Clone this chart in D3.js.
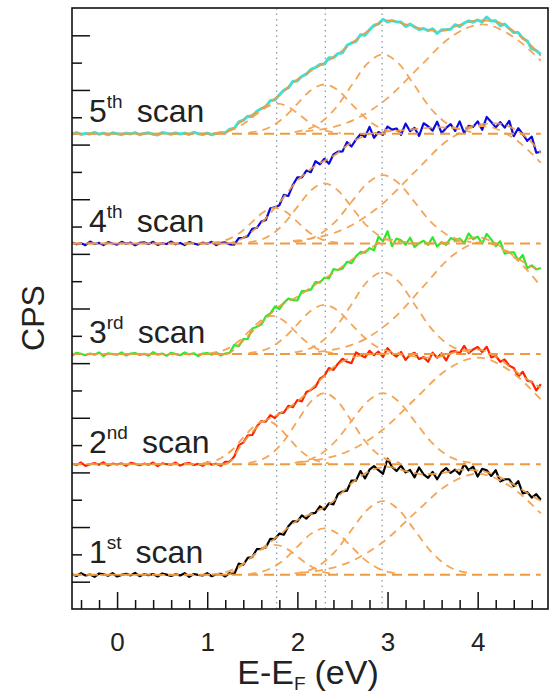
<!DOCTYPE html>
<html><head><meta charset="utf-8">
<script src="https://cdn.jsdelivr.net/npm/d3@7"></script>
<style>body{margin:0;background:#fff;} text{font-family:"Liberation Sans",Arial,sans-serif;}</style>
</head><body><svg id="chart" width="550" height="700"></svg>
<script>
// ---------- data ----------
const energyStart = -0.5, energyStep = 0.05;   // measured grid of the spectra (eV)
const scanNumbers = ["1", "2", "3", "4", "5"];
const scanSuffixes = ["st", "nd", "rd", "th", "th"];
const scanOffsets = [1.25, 5.3, 9.33, 13.38, 17.4];
const xMajorTicks = [0, 1, 2, 3, 4];
const yMajorTicks = [1, 3, 5, 7, 9, 11, 13, 15, 17, 19, 21];
const yMinorTicks = [2, 4, 6, 8, 10, 12, 14, 16, 18, 20];
const markerEnergies = [1.77, 2.31, 2.94];

const scan1Counts = [.02,-.04,.06,-.02,.01,-.07,.05,.02,-.03,.06,-.06,0,.04,-.02,.07,-.05,.02,-.01,.03,-.06,.05,.01,-.04,.02,-.02,.06,-.07,.03,0,-.02,.06,-.05,.02,.04,
 -.06,.07,.03,.41,.37,.62,.65,.94,.95,1.0,1.32,1.31,1.51,1.47,1.78,1.96,1.96,2.18,2.06,2.24,2.27,2.51,2.39,2.62,2.58,2.96,3.05,
 3.08,3.45,3.45,3.8,3.53,3.85,3.98,3.83,3.7,4.25,3.95,3.8,4.0,3.75,3.84,3.57,3.93,3.68,3.55,3.77,3.5,3.77,3.91,3.73,3.85,3.68,4.05,3.83,3.96,3.6,3.88,3.83,3.62,3.83,3.42,3.5,3.5,3.25,3.43,2.98,3.03,2.83,2.95,2.75];
const scan2Counts = [.02,-.03,.06,-.06,0,.04,-.02,.07,-.05,.02,-.01,.03,-.06,.05,.01,-.04,.02,-.02,.06,-.07,.03,0,-.02,.06,-.05,.02,.04,-.03,.01,-.06,.07,-.02,.02,-.06,
 .09,.1,.28,.7,.79,1.06,1.07,1.38,1.58,1.56,1.8,1.69,1.87,1.89,2.14,2.09,2.35,2.3,2.64,2.72,2.83,3.13,3.24,3.52,3.45,3.68,3.86,
 3.75,3.7,4.09,4.0,3.91,4.15,3.99,4.12,3.92,4.25,4.05,3.94,4.11,3.82,4.01,4.08,3.85,3.92,3.75,4.08,3.9,4.06,3.8,4.12,4.14,4.06,4.33,4.07,4.2,4.29,4.11,4.3,3.91,3.97,3.75,3.83,3.61,3.52,3.21,3.38,3.06,3.02,2.7,2.93];
const scan3Counts = [-.06,.05,.01,-.04,.02,-.02,.06,-.07,.03,0,-.02,.06,-.05,.02,.04,-.03,.01,-.06,.07,-.02,.02,-.06,.05,0,-.04,.06,-.01,.03,-.07,.02,.04,-.02,.06,-.05,
 .02,.05,.34,.29,.55,.56,.94,1.0,1.08,1.38,1.49,1.74,1.65,1.88,2.03,1.98,1.97,2.31,2.32,2.36,2.64,2.62,2.8,2.77,3.11,3.08,3.13,
 3.38,3.33,3.58,3.74,3.71,3.88,3.8,4.3,4.13,4.5,3.95,4.23,4.17,4.0,4.26,3.92,4.06,4.15,4.0,4.28,3.94,4.1,4.0,4.25,4.17,4.23,4.06,4.42,4.2,4.3,4.05,4.4,4.2,3.95,4.13,3.68,3.72,3.73,3.43,3.63,3.15,3.25,3.1,3.15];
const scan4Counts = [.04,-.03,.01,-.06,.07,-.02,.02,-.06,.05,0,-.04,.06,-.01,.03,-.07,.02,.04,-.02,.06,-.05,.01,-.02,.07,-.03,.02,-.06,.05,0,-.04,.03,-.01,.06,-.06,.02,.04,
 -.03,-.04,.2,.21,.27,.54,.57,.8,.86,1.29,1.32,1.4,1.78,1.74,2.14,2.42,2.42,2.67,2.61,3.01,2.9,3.1,2.92,3.26,3.36,3.37,
 3.71,3.55,3.8,4.0,3.9,4.27,3.87,4.08,3.98,4.28,4.17,4.21,3.98,4.39,4.11,4.23,3.94,4.4,4.29,4.13,4.46,4.04,4.23,4.37,4.12,4.47,4.04,4.31,4.27,4.47,4.16,4.63,4.45,4.25,4.44,4.24,4.49,3.93,4.22,4.0,3.76,3.91,3.32,3.36];
const scan5Counts = [-.02,.04,-.03,.01,-.01,.05,-.02,.02,-.04,.03,0,-.03,.02,-.01,.04,-.04,.01,.03,-.02,-.05,.04,.01,-.02,.03,-.01,.02,-.03,.05,0,-.03,.02,-.04,.01,.03,
 .03,.16,.19,.43,.49,.64,.63,.82,.92,.99,1.21,1.23,1.42,1.59,1.68,1.91,1.94,2.1,2.18,2.35,2.42,2.53,2.55,2.78,2.78,2.93,2.96,
 3.23,3.32,3.38,3.62,3.6,3.8,3.97,4.02,4.19,4.09,4.14,4.09,4.09,3.92,4.01,3.91,3.81,3.85,3.77,3.84,3.67,3.8,3.8,3.82,3.99,3.92,4.05,4.13,4.08,4.16,4.09,4.27,4.12,4.13,3.95,4.01,3.85,3.7,3.7,3.49,3.39,3.11,3.04,2.9];

// total fit envelopes
const fitEnergies = [-0.5,1.0,1.2,1.4,1.6,1.8,2.0,2.2,2.4,2.6,2.8,3.0,3.2,3.4,3.6,3.8,4.0,4.2,4.4,4.6,4.7];
const scan1Fit = [0,0,0,.4,.95,1.45,2.0,2.3,2.7,3.35,3.8,3.95,3.8,3.68,3.72,3.85,3.82,3.65,3.3,2.9,2.7];
const scan2Fit = [0,0,0,.8,1.5,1.85,2.3,2.9,3.55,3.9,4.02,4.05,4.0,3.9,3.95,4.15,4.2,3.95,3.45,3.0,2.8];
const scan3Fit = [0,0,0,.5,1.15,1.75,2.1,2.55,2.97,3.45,3.85,4.2,4.1,4.05,4.07,4.15,4.28,4.05,3.6,3.2,3.05];
const scan4Fit = [0,0,0,.2,.75,1.5,2.3,2.85,3.2,3.7,4.0,4.1,4.15,4.22,4.25,4.2,4.35,4.4,4.2,3.7,3.3];
const scan5Fit = [0,0,.05,.5,.9,1.42,1.98,2.4,2.8,3.3,3.8,4.15,4.0,3.82,3.76,3.98,4.15,4.1,3.75,3.2,2.85];

// fitted peak components [energy, height]
const scan1Peaks = [
 [[1.05,.02],[1.25,.15],[1.375,.36],[1.5,.67],[1.625,.97],[1.75,1.1],[1.875,.97],[2.0,.67],[2.125,.36],[2.25,.15],[2.45,.02]],
 [[1.46,.03],[1.7,.23],[1.85,.55],[2.0,1.03],[2.15,1.5],[2.3,1.7],[2.45,1.5],[2.6,1.03],[2.75,.55],[2.9,.23],[3.14,.03]],
 [[1.97,.05],[2.25,.36],[2.425,.88],[2.6,1.64],[2.775,2.38],[2.95,2.7],[3.125,2.38],[3.3,1.64],[3.475,.88],[3.65,.36],[3.93,.05]],
 [[2.04,.07],[2.6,.5],[2.95,1.2],[3.3,2.25],[3.65,3.26],[4.0,3.7],[4.35,3.26],[4.7,2.25]]];
const scan2Peaks = [
 [[.95,.03],[1.15,.22],[1.275,.52],[1.4,.97],[1.525,1.41],[1.65,1.6],[1.775,1.41],[1.9,.97],[2.025,.52],[2.15,.22],[2.35,.03]],
 [[1.46,.05],[1.7,.35],[1.85,.85],[2.0,1.58],[2.15,2.29],[2.3,2.6],[2.45,2.29],[2.6,1.58],[2.75,.85],[2.9,.35],[3.14,.05]],
 [[1.97,.05],[2.25,.35],[2.425,.85],[2.6,1.58],[2.775,2.29],[2.95,2.6],[3.125,2.29],[3.3,1.58],[3.475,.85],[3.65,.35],[3.93,.05]],
 [[2.04,.08],[2.6,.53],[2.95,1.27],[3.3,2.37],[3.65,3.44],[4.0,3.9],[4.35,3.44],[4.7,2.37]]];
const scan3Peaks = [
 [[1.02,.03],[1.22,.19],[1.345,.46],[1.47,.85],[1.595,1.23],[1.72,1.4],[1.845,1.23],[1.97,.85],[2.095,.46],[2.22,.19],[2.42,.03]],
 [[1.46,.04],[1.7,.24],[1.85,.59],[2.0,1.09],[2.15,1.59],[2.3,1.8],[2.45,1.59],[2.6,1.09],[2.75,.59],[2.9,.24],[3.14,.04]],
 [[1.97,.06],[2.25,.41],[2.425,.98],[2.6,1.82],[2.775,2.65],[2.95,3.0],[3.125,2.65],[3.3,1.82],[3.475,.98],[3.65,.41],[3.93,.06]],
 [[2.23,.08],[2.75,.55],[3.075,1.33],[3.4,2.49],[3.725,3.62],[4.05,4.1],[4.375,3.62],[4.7,2.49]]];
const scan4Peaks = [
 [[1.05,.03],[1.25,.18],[1.375,.42],[1.5,.79],[1.625,1.15],[1.75,1.3],[1.875,1.15],[2.0,.79],[2.125,.42],[2.25,.18],[2.45,.03]],
 [[1.46,.04],[1.7,.3],[1.85,.72],[2.0,1.34],[2.15,1.94],[2.3,2.2],[2.45,1.94],[2.6,1.34],[2.75,.72],[2.9,.3],[3.14,.04]],
 [[1.97,.05],[2.25,.34],[2.425,.81],[2.6,1.52],[2.775,2.2],[2.95,2.5],[3.125,2.2],[3.3,1.52],[3.475,.81],[3.65,.34],[3.93,.05]],
 [[1.95,.09],[2.55,.58],[2.925,1.4],[3.3,2.61],[3.675,3.79],[4.05,4.3],[4.425,3.79],[4.7,2.95]]];
const scan5Peaks = [
 [[1.08,.02],[1.28,.15],[1.405,.36],[1.53,.67],[1.655,.97],[1.78,1.1],[1.905,.97],[2.03,.67],[2.155,.36],[2.28,.15],[2.48,.02]],
 [[1.46,.04],[1.7,.24],[1.85,.59],[2.0,1.09],[2.15,1.59],[2.3,1.8],[2.45,1.59],[2.6,1.09],[2.75,.59],[2.9,.24],[3.14,.04]],
 [[1.97,.06],[2.25,.39],[2.425,.94],[2.6,1.76],[2.775,2.56],[2.95,2.9],[3.125,2.56],[3.3,1.76],[3.475,.94],[3.65,.39],[3.93,.06]],
 [[2.09,.08],[2.65,.54],[3.0,1.3],[3.35,2.43],[3.7,3.53],[4.05,4.0],[4.4,3.53],[4.7,2.67]]];

// ---------- drawing ----------
const scanCounts = [scan1Counts, scan2Counts, scan3Counts, scan4Counts, scan5Counts];
const scanFits = [scan1Fit, scan2Fit, scan3Fit, scan4Fit, scan5Fit];
const scanPeaks = [scan1Peaks, scan2Peaks, scan3Peaks, scan4Peaks, scan5Peaks];
const scanColors = ["#000000", "#ff2200", "#2ee82e", "#0a0ae0", "#40e0d6"];
const scanWidths = [2.2, 2.2, 2.2, 2.2, 3];

const L = 72, R = 548, T = 8, B = 609;
const x = d3.scaleLinear().domain([-0.5, 4.78]).range([L, R]);
const y = d3.scaleLinear().domain([0, 22]).range([B, T]);
const svg = d3.select("#chart");

svg.append("defs").append("clipPath").attr("id", "plotclip")
  .append("rect").attr("x", L).attr("y", T).attr("width", R - L).attr("height", B - T);
const plot = svg.append("g").attr("clip-path", "url(#plotclip)");

// vertical dotted markers
plot.selectAll("line.marker").data(markerEnergies).enter().append("line")
  .attr("x1", d => x(d)).attr("x2", d => x(d)).attr("y1", T).attr("y2", B)
  .attr("stroke", "#8e9ab0").attr("stroke-width", 1.3).attr("stroke-dasharray", "1.5,4");

const orange = "#ef9a3e";
// spectra
scanCounts.forEach((vals, k) => {
  const off = scanOffsets[k];
  const line = d3.line().x((d, i) => x(energyStart + energyStep * i)).y(d => y(off + d));
  plot.append("path").attr("d", line(vals)).attr("fill", "none")
    .attr("stroke", scanColors[k]).attr("stroke-width", scanWidths[k]).attr("stroke-linejoin", "round");
});
// fits
scanFits.forEach((fit, k) => {
  const off = scanOffsets[k];
  plot.append("line").attr("x1", x(-0.5)).attr("x2", x(4.7)).attr("y1", y(off)).attr("y2", y(off))
    .attr("stroke", orange).attr("stroke-width", 2).attr("stroke-dasharray", "10,6");
  const pl = d3.line().x(d => x(d[0])).y(d => y(off + d[1])).curve(d3.curveMonotoneX);
  scanPeaks[k].forEach(pk => {
    plot.append("path").attr("d", pl(pk)).attr("fill", "none")
      .attr("stroke", "#f3a658").attr("stroke-width", 1.8).attr("stroke-dasharray", "8,6");
  });
  const el = d3.line().x((d, i) => x(fitEnergies[i])).y(d => y(off + d)).curve(d3.curveMonotoneX);
  plot.append("path").attr("d", el(fit)).attr("fill", "none")
    .attr("stroke", orange).attr("stroke-width", 1.8).attr("stroke-dasharray", "9,5").attr("opacity", 0.9);
});

// axes
const xMinor = d3.range(-2, 24).map(k => k / 5).filter(v => Math.abs(v - Math.round(v)) > 1e-6 && v < 4.78);
const axMaj = svg.append("g").attr("transform", `translate(0,${B})`)
  .call(d3.axisBottom(x).tickValues(xMajorTicks).tickSize(-17).tickPadding(24).tickFormat(d3.format("d")));
const axMin = svg.append("g").attr("transform", `translate(0,${B})`)
  .call(d3.axisBottom(x).tickValues(xMinor).tickSize(-9).tickFormat(""));
const ayMaj = svg.append("g").attr("transform", `translate(${L},0)`)
  .call(d3.axisLeft(y).tickValues(yMajorTicks).tickSize(-18).tickFormat(""));
const ayMin = svg.append("g").attr("transform", `translate(${L},0)`)
  .call(d3.axisLeft(y).tickValues(yMinorTicks).tickSize(-10).tickFormat(""));
[axMaj, axMin, ayMaj, ayMin].forEach(g => {
  g.select(".domain").remove();
  g.selectAll(".tick line").attr("stroke", "#111").attr("stroke-width", 1.5);
});
axMaj.selectAll(".tick text").attr("font-size", 26).attr("fill", "#222")
  .attr("font-family", '"Liberation Sans", Arial, sans-serif');

// frame
svg.append("rect").attr("x", L).attr("y", T).attr("width", R - L).attr("height", B - T)
  .attr("fill", "none").attr("stroke", "#111").attr("stroke-width", 1.6);

// scan labels
scanNumbers.forEach((n, k) => {
  const t = svg.append("text").attr("x", L + 17).attr("y", y(scanOffsets[k]) - 11.5)
    .attr("font-size", 32).attr("fill", "#222");
  t.append("tspan").text(n);
  t.append("tspan").attr("font-size", 19).attr("dy", -14).text(scanSuffixes[k]);
  t.append("tspan").attr("dy", 14).attr("dx", 14).text("scan");
});

// axis titles
const xt = svg.append("text").attr("x", 308).attr("y", 684).attr("text-anchor", "middle")
  .attr("font-size", 34).attr("fill", "#222");
xt.append("tspan").text("E-E");
xt.append("tspan").attr("font-size", 19).attr("dy", 6).text("F");
xt.append("tspan").attr("dy", -6).attr("dx", 9).text("(eV)");

svg.append("text").attr("transform", "translate(44,318) rotate(-90)").attr("text-anchor", "middle")
  .attr("font-size", 32).attr("fill", "#222").text("CPS");
</script></body></html>
